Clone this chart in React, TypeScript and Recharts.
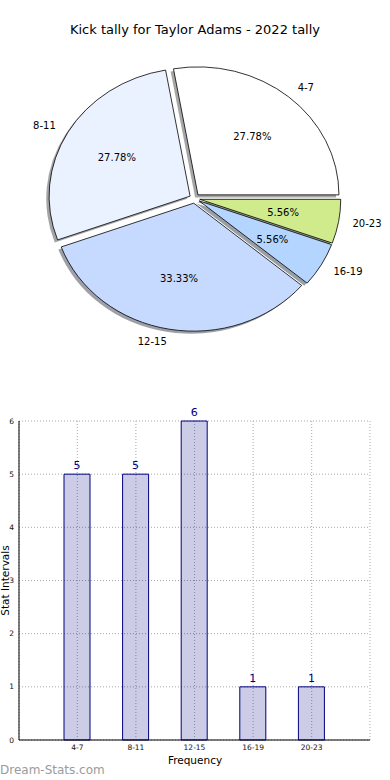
import { PieChart, Pie, Cell, BarChart, Bar, XAxis, YAxis, CartesianGrid, LabelList } from "recharts";

const RANGES = ["4-7", "8-11", "12-15", "16-19", "20-23"];
const COUNTS = [5, 5, 6, 1, 1];
const SLICE_COLORS = ["#ffffff", "#ebf2ff", "#c6daff", "#b4d5ff", "#d0eb8c"];
const Y_TICKS = [0, 1, 2, 3, 4, 5, 6];

const data = RANGES.map((range, i) => ({ range, count: COUNTS[i] }));

const RAD = Math.PI / 180;
// the source pie is a little squashed vertically
const Y_SCALE = 128 / 141;
const EXPLODE = 0.037;
const SHADOW = 0.02;
const FONT = "'DejaVu Sans', sans-serif";

function darken(hex: string) {
  const n = parseInt(hex.slice(1), 16);
  const r = Math.round(((n >> 16) & 255) * 0.3);
  const g = Math.round(((n >> 8) & 255) * 0.3);
  const b = Math.round((n & 255) * 0.3);
  return `rgb(${r},${g},${b})`;
}

function wedgePath(p: any, shadow: boolean) {
  const { cx, cy, outerRadius, startAngle, endAngle } = p;
  const rx = outerRadius;
  const ry = outerRadius * Y_SCALE;
  const mid = ((startAngle + endAngle) / 2) * RAD;
  let ox = cx + EXPLODE * rx * Math.cos(mid);
  let oy = cy - EXPLODE * ry * Math.sin(mid);
  if (shadow) {
    ox -= SHADOW * rx;
    oy += SHADOW * ry;
  }
  const a0 = startAngle * RAD;
  const a1 = endAngle * RAD;
  const x0 = ox + rx * Math.cos(a0);
  const y0 = oy - ry * Math.sin(a0);
  const x1 = ox + rx * Math.cos(a1);
  const y1 = oy - ry * Math.sin(a1);
  const large = Math.abs(endAngle - startAngle) > 180 ? 1 : 0;
  return `M${ox},${oy} L${x0},${y0} A${rx},${ry} 0 ${large} 0 ${x1},${y1} Z`;
}

const Wedge = (p: any) => (
  <path d={wedgePath(p, false)} fill={p.fill} stroke="#000" strokeWidth={0.8} strokeLinejoin="round" />
);

const WedgeShadow = (p: any) => (
  <path d={wedgePath(p, true)} fill={darken(p.fill)} fillOpacity={0.5} stroke="none" />
);

function pieLabel(p: any) {
  const { cx, cy, outerRadius, startAngle, endAngle, percent } = p;
  const name = p.name ?? p.payload?.range;
  const rx = outerRadius;
  const ry = outerRadius * Y_SCALE;
  const m = ((startAngle + endAngle) / 2) * RAD;
  const ex = cx + EXPLODE * rx * Math.cos(m);
  const ey = cy - EXPLODE * ry * Math.sin(m);
  const lx = ex + 1.1 * rx * Math.cos(m);
  const ly = ey - 1.1 * ry * Math.sin(m);
  const px = ex + 0.6 * rx * Math.cos(m);
  const py = ey - 0.6 * ry * Math.sin(m);
  return (
    <g>
      <text x={lx} y={ly} textAnchor={Math.cos(m) > 0 ? "start" : "end"} dominantBaseline="central" fontSize={10} fill="#000" fontFamily={FONT}>
        {name}
      </text>
      <text x={px} y={py} textAnchor="middle" dominantBaseline="central" fontSize={10} fill="#000" fontFamily={FONT}>
        {(percent * 100).toFixed(2)}%
      </text>
    </g>
  );
}

export default function App() {
  return (
    <div style={{ position: "absolute", left: 0, top: 0, width: 390, height: 780, background: "#fff", fontFamily: FONT }}>
      <div style={{ position: "absolute", left: 0, top: 0 }}>
        <PieChart width={390} height={360} margin={{ top: 0, right: 0, bottom: 0, left: 0 }}>
          <Pie
            data={data}
            dataKey="count"
            nameKey="range"
            cx={194.6}
            cy={198.5}
            outerRadius={141}
            startAngle={0}
            endAngle={360}
            shape={WedgeShadow}
            activeShape={WedgeShadow}
            label={false}
            labelLine={false}
            isAnimationActive={false}
          >
            {data.map((d, i) => (
              <Cell key={d.range} fill={SLICE_COLORS[i]} />
            ))}
          </Pie>
          <Pie
            data={data}
            dataKey="count"
            nameKey="range"
            cx={194.6}
            cy={198.5}
            outerRadius={141}
            startAngle={0}
            endAngle={360}
            shape={Wedge}
            activeShape={Wedge}
            label={pieLabel}
            labelLine={false}
            isAnimationActive={false}
          >
            {data.map((d, i) => (
              <Cell key={d.range} fill={SLICE_COLORS[i]} />
            ))}
          </Pie>
        </PieChart>
      </div>

      <div style={{ position: "absolute", left: 0, top: 400 }}>
        <BarChart width={390} height={380} data={data} margin={{ top: 21, right: 20, left: 0, bottom: 0 }}>
          <CartesianGrid stroke="#a8a8a8" strokeDasharray="1 2" />
          <XAxis
            dataKey="range"
            interval={0}
            padding={{ left: 29, right: 29 }}
            height={40}
            tickLine={false}
            tickSize={3}
            axisLine={{ stroke: "#000" }}
            tick={{ fontSize: 7.5, fill: "#111" }}
          />
          <XAxis xAxisId="top" orientation="top" dataKey="range" height={0} tick={false} tickLine={false} axisLine={{ stroke: "#000" }} />
          <YAxis
            domain={[0, 6]}
            ticks={Y_TICKS}
            interval={0}
            width={19}
            tickLine={false}
            tickSize={3}
            axisLine={{ stroke: "#000" }}
            tick={{ fontSize: 7.5, fill: "#111" }}
          />
          <YAxis yAxisId="right" orientation="right" width={0} domain={[0, 6]} tick={false} tickLine={false} axisLine={{ stroke: "#000" }} />
          <Bar dataKey="count" barSize={26} fill="rgba(0,0,128,0.2)" stroke="#000080" strokeWidth={1} isAnimationActive={false}>
            <LabelList dataKey="count" position="top" offset={5} fill="#000080" fontSize={11} />
          </Bar>
        </BarChart>
      </div>

      <svg width={390} height={780} style={{ position: "absolute", left: 0, top: 0, pointerEvents: "none" }}>
        <text x={195} y={33.5} textAnchor="middle" fontSize={13} fill="#000" fontFamily={FONT}>
          Kick tally for Taylor Adams - 2022 tally
        </text>
        <text x={195} y={764} textAnchor="middle" fontSize={10.5} fill="#000" fontFamily={FONT}>
          Frequency
        </text>
        <text x={9} y={580.5} transform="rotate(-90 9 580.5)" textAnchor="middle" fontSize={10.5} fill="#000" fontFamily={FONT}>
          Stat Intervals
        </text>
        <text x={0} y={774} fontSize={12} fill="#9b9b9b" fontFamily={FONT}>
          Dream-Stats.com
        </text>
      </svg>
    </div>
  );
}
